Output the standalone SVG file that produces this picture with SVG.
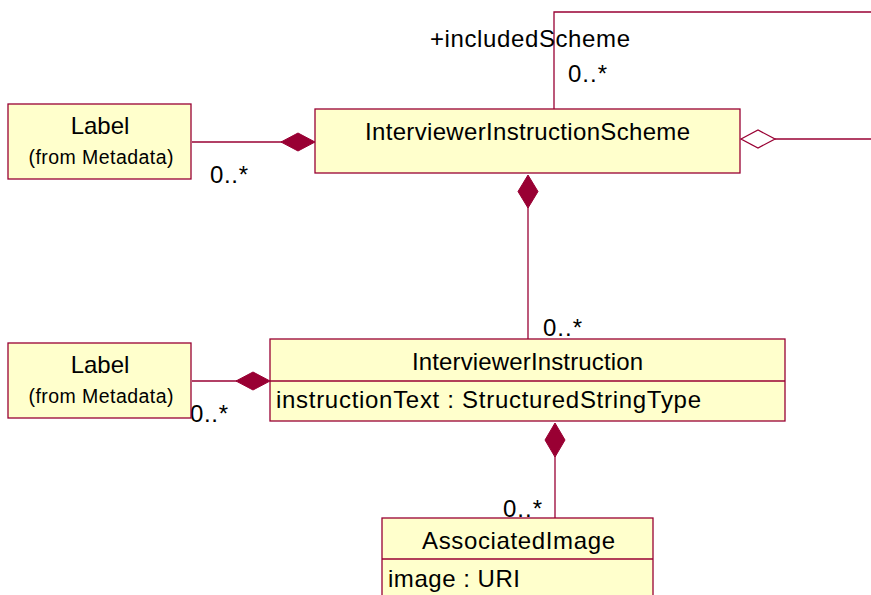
<svg xmlns="http://www.w3.org/2000/svg" width="871" height="595" viewBox="0 0 871 595">
  <style>
    .box { fill: #ffffcc; stroke: #990033; stroke-width: 1.3; }
    .div { stroke: #990033; stroke-width: 1.3; }
    .line { fill: none; stroke: #990033; stroke-width: 1.3; }
    .comp { fill: #990033; stroke: #990033; stroke-width: 1; }
    .agg { fill: #ffffff; stroke: #990033; stroke-width: 1.3; }
    text { font-family: "Liberation Sans", Arial, sans-serif; fill: #000000; }
    .name { font-size: 24px; }
    .sub { font-size: 19.5px; }
    .attr { font-size: 24px; }
    .mult { font-size: 24px; }
  </style>

  <!-- connectors -->
  <g id="connectors">
    <!-- Label -> InterviewerInstructionScheme (composition) -->
    <line class="line" x1="192" y1="142" x2="282" y2="142"/>
    <polygon class="comp" points="281,142 298,133 315,142 298,151"/>
    <text class="mult" x="210" y="183" textLength="38" lengthAdjust="spacing">0..*</text>

    <!-- includedScheme self association (aggregation) -->
    <polyline class="line" points="554,109 554,12 871,12"/>
    <line class="line" x1="775" y1="139" x2="871" y2="139"/>
    <polygon class="agg" points="741,139 758,130 775,139 758,148"/>
    <text class="mult" x="430" y="47" textLength="200" lengthAdjust="spacing">+includedScheme</text>
    <text class="mult" x="568" y="82" textLength="39" lengthAdjust="spacing">0..*</text>

    <!-- InterviewerInstructionScheme -> InterviewerInstruction (composition) -->
    <line class="line" x1="528" y1="207" x2="528" y2="339"/>
    <polygon class="comp" points="528,175 538,191.5 528,208 518,191.5"/>
    <text class="mult" x="543" y="336" textLength="39" lengthAdjust="spacing">0..*</text>

    <!-- Label -> InterviewerInstruction (composition) -->
    <line class="line" x1="192" y1="381" x2="237" y2="381"/>
    <polygon class="comp" points="236,381 253,372 270,381 253,390"/>
    <text class="mult" x="190" y="422" textLength="38" lengthAdjust="spacing">0..*</text>

    <!-- InterviewerInstruction -> AssociatedImage (composition) -->
    <line class="line" x1="555" y1="456" x2="555" y2="518"/>
    <polygon class="comp" points="555,423 565,440 555,457 545,440"/>
    <text class="mult" x="503" y="517" textLength="39" lengthAdjust="spacing">0..*</text>
  </g>

  <!-- Label (from Metadata), top -->
  <g id="label-top">
    <rect class="box" x="8" y="104" width="183" height="75"/>
    <text class="name" x="100" y="134" text-anchor="middle">Label</text>
    <text class="sub" x="101" y="164" text-anchor="middle" textLength="145" lengthAdjust="spacing">(from Metadata)</text>
  </g>

  <!-- InterviewerInstructionScheme -->
  <g id="interviewer-instruction-scheme">
    <rect class="box" x="315" y="109" width="425" height="64"/>
    <text class="name" x="365" y="140" textLength="325" lengthAdjust="spacing">InterviewerInstructionScheme</text>
  </g>

  <!-- Label (from Metadata), bottom -->
  <g id="label-bottom">
    <rect class="box" x="8" y="343" width="183" height="75"/>
    <text class="name" x="100" y="373" text-anchor="middle">Label</text>
    <text class="sub" x="101" y="403" text-anchor="middle" textLength="145" lengthAdjust="spacing">(from Metadata)</text>
  </g>

  <!-- InterviewerInstruction -->
  <g id="interviewer-instruction">
    <rect class="box" x="270" y="339" width="515" height="82"/>
    <line class="div" x1="270" y1="381" x2="785" y2="381"/>
    <text class="name" x="412" y="370" textLength="231" lengthAdjust="spacing">InterviewerInstruction</text>
    <text class="attr" x="276" y="408" textLength="425" lengthAdjust="spacing">instructionText : StructuredStringType</text>
  </g>

  <!-- AssociatedImage -->
  <g id="associated-image">
    <rect class="box" x="382" y="518" width="271" height="90"/>
    <line class="div" x1="382" y1="559" x2="653" y2="559"/>
    <text class="name" x="422" y="549" textLength="193" lengthAdjust="spacing">AssociatedImage</text>
    <text class="attr" x="388" y="587" textLength="132" lengthAdjust="spacing">image : URI</text>
  </g>
</svg>
